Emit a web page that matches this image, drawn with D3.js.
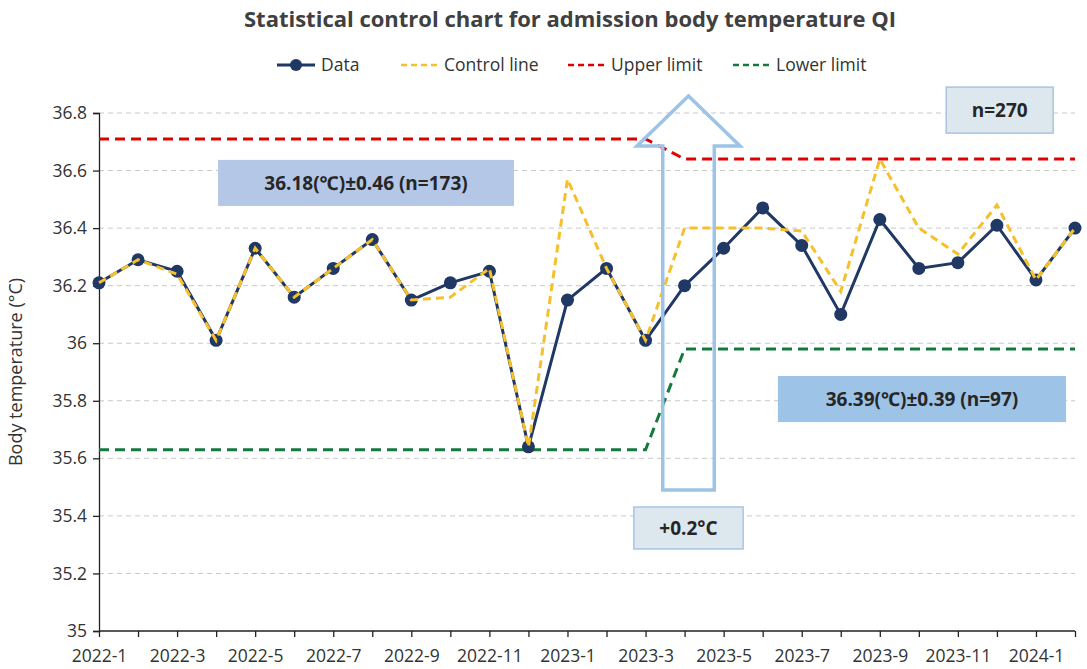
<!DOCTYPE html>
<html><head><meta charset="utf-8">
<script src="https://cdn.jsdelivr.net/npm/d3@7/dist/d3.min.js"></script>
<style>body{margin:0;background:#fff;}svg{display:block;font-family:"Open Sans","Noto Sans",sans-serif;}</style>
</head><body><svg id="c" width="1087" height="669"></svg>
<script>
const months = ["2022-1","2022-2","2022-3","2022-4","2022-5","2022-6","2022-7","2022-8","2022-9","2022-10","2022-11","2022-12",
"2023-1","2023-2","2023-3","2023-4","2023-5","2023-6","2023-7","2023-8","2023-9","2023-10","2023-11","2023-12","2024-1","2024-2"];
const dataValues = [36.21,36.29,36.25,36.01,36.33,36.16,36.26,36.36,36.15,36.21,36.25,35.64,36.15,36.26,36.01,36.20,36.33,36.47,36.34,36.10,36.43,36.26,36.28,36.41,36.22,36.40];
const controlLine = [36.21,36.29,36.24,36.01,36.33,36.16,36.26,36.36,36.15,36.16,36.26,35.64,36.57,36.26,36.01,36.40,36.40,36.40,36.39,36.18,36.64,36.40,36.31,36.48,36.22,36.40];
const upperLimit = [36.71,36.71,36.71,36.71,36.71,36.71,36.71,36.71,36.71,36.71,36.71,36.71,36.71,36.71,36.71,36.64,36.64,36.64,36.64,36.64,36.64,36.64,36.64,36.64,36.64,36.64];
const lowerLimit = [35.63,35.63,35.63,35.63,35.63,35.63,35.63,35.63,35.63,35.63,35.63,35.63,35.63,35.63,35.63,35.98,35.98,35.98,35.98,35.98,35.98,35.98,35.98,35.98,35.98,35.98];
const yTicks = [35,35.2,35.4,35.6,35.8,36,36.2,36.4,36.6,36.8];
const xTickLabels = months.filter((m,i)=>i%2===0);
const title = "Statistical control chart for admission body temperature QI";
const yTitle = "Body temperature (°C)";
const seriesNames = ["Data","Control line","Upper limit","Lower limit"];
const annotations = [
  {text:"36.18(℃)±0.46 (n=173)", x0:"2022-4", dx0:0.05, x1:"2022-11", dx1:0.63, y:36.637, h:0.16, fill:"#b4c7e7", stroke:"none"},
  {text:"36.39(℃)±0.39 (n=97)", x0:"2023-6", dx0:0.39, x1:"2024-1", dx1:0.77, y:35.886, h:0.16, fill:"#9dc3e6", stroke:"none"},
  {text:"n=270", x0:"2023-10", dx0:0.70, x1:"2024-1", dx1:0.44, y:36.89, h:0.16, fill:"#dde7ee", stroke:"#a9c4e4"},
  {text:"+0.2°C", x0:"2023-3", dx0:-0.3, x1:"2023-6", dx1:-0.5, y:35.431, h:0.146, fill:"#dde7ee", stroke:"#a9c4e4"}
];

const svg = d3.select("#c");
const m = {l:99, r:1075, t:113, b:631};
const x = d3.scalePoint().domain(months).range([m.l, m.r]);
const y = d3.scaleLinear().domain([35,36.8]).range([m.b, m.t]);
const step = x.step();
const xi = (name, d) => x(name) + d*step;
const FONT = "'Open Sans','Noto Sans',sans-serif";

// gridlines
svg.append("g").selectAll("line").data(yTicks.filter(v=>v>35)).join("line")
  .attr("x1",m.l).attr("x2",m.r).attr("y1",d=>y(d)).attr("y2",d=>y(d))
  .attr("stroke","#c8c8cc").attr("stroke-width",1).attr("stroke-dasharray","5,4");

// axes
const yAxis = svg.append("g").attr("transform",`translate(${m.l},0)`)
  .call(d3.axisLeft(y).tickValues(yTicks).tickFormat(d=>String(+d.toFixed(1))).tickSize(6).tickPadding(6));
const xAxis = svg.append("g").attr("transform",`translate(0,${m.b})`)
  .call(d3.axisBottom(x).tickFormat(d=>xTickLabels.includes(d)?d:"").tickSize(6).tickPadding(13));
[yAxis,xAxis].forEach(a=>{
  a.select(".domain").attr("stroke","#222").attr("stroke-width",1.3);
  a.selectAll(".tick line").attr("stroke","#222").attr("stroke-width",1.3);
  a.selectAll("text").attr("font-size",17.5).attr("fill","#333").attr("font-family",FONT);
});
xAxis.select(".domain").attr("d",`M${m.l},0H${m.r}`);

// lines
const line = vals => d3.line().x((d,i)=>x(months[i])).y(d=>y(d))(vals);
svg.append("path").attr("d",line(upperLimit)).attr("fill","none").attr("stroke","#e00000").attr("stroke-width",3).attr("stroke-dasharray","10,6");
svg.append("path").attr("d",line(lowerLimit)).attr("fill","none").attr("stroke","#137a3c").attr("stroke-width",3).attr("stroke-dasharray","10,6");
svg.append("path").attr("d",line(dataValues)).attr("fill","none").attr("stroke","#203864").attr("stroke-width",3);
svg.append("g").selectAll("circle").data(dataValues).join("circle")
  .attr("cx",(d,i)=>x(months[i])).attr("cy",d=>y(d)).attr("r",6.5).attr("fill","#203864");
svg.append("path").attr("d",line(controlLine)).attr("fill","none").attr("stroke","#f6c02c").attr("stroke-width",3).attr("stroke-dasharray","8,5");

// annotation boxes
annotations.forEach(a=>{
  const X0 = xi(a.x0,a.dx0), X1 = xi(a.x1,a.dx1), Y0 = y(a.y), Y1 = y(a.y - a.h);
  svg.append("rect").attr("x",X0).attr("y",Y0).attr("width",X1-X0).attr("height",Y1-Y0)
    .attr("fill",a.fill).attr("stroke",a.stroke).attr("stroke-width",1.5);
  svg.append("text").attr("x",(X0+X1)/2).attr("y",(Y0+Y1)/2).attr("dy","0.36em").attr("text-anchor","middle")
    .attr("font-size",19).attr("font-weight","bold").attr("fill","#262626").text(a.text);
});

// hollow up arrow
{
  const cx = xi("2023-4", 0.1);
  const shaftHalf = 0.66*step, headHalf = 1.32*step;
  const tip = y(36.859), headBase = y(36.685), bottom = y(35.49);
  const pts = [[cx,tip],[cx+headHalf,headBase],[cx+shaftHalf,headBase],[cx+shaftHalf,bottom],[cx-shaftHalf,bottom],[cx-shaftHalf,headBase],[cx-headHalf,headBase]];
  svg.append("path").attr("d","M"+pts.map(p=>p.join(",")).join("L")+"Z")
    .attr("fill","none").attr("stroke","#9dc3e6").attr("stroke-width",3.5).attr("stroke-linejoin","miter");
}

// y title
svg.append("text").attr("transform",`translate(22,${(m.t+m.b)/2}) rotate(-90)`).attr("text-anchor","middle")
  .attr("font-size",18).attr("fill","#333").text(yTitle);
// title
svg.append("text").attr("x",570).attr("y",27).attr("text-anchor","middle").attr("font-size",22).attr("font-weight","bold")
  .attr("fill","#404040").text(title);

// legend
const legendX = [277, 401, 568, 733];
const legendColors = ["#203864","#f6c02c","#e00000","#137a3c"];
const lg = svg.append("g");
seriesNames.forEach((n,i)=>{
  const g = lg.append("g").attr("transform",`translate(${legendX[i]},65)`);
  if(i===0){
    g.append("line").attr("x1",0).attr("x2",38).attr("stroke",legendColors[i]).attr("stroke-width",3);
    g.append("circle").attr("cx",19).attr("r",6).attr("fill",legendColors[i]);
  } else {
    g.append("line").attr("x1",0).attr("x2",36).attr("stroke",legendColors[i]).attr("stroke-width",2.5).attr("stroke-dasharray","6,4");
  }
  g.append("text").attr("x", i===0?44:43).attr("dy","0.36em").attr("font-size",17.5).attr("fill","#333").text(n);
});
</script></body></html>
